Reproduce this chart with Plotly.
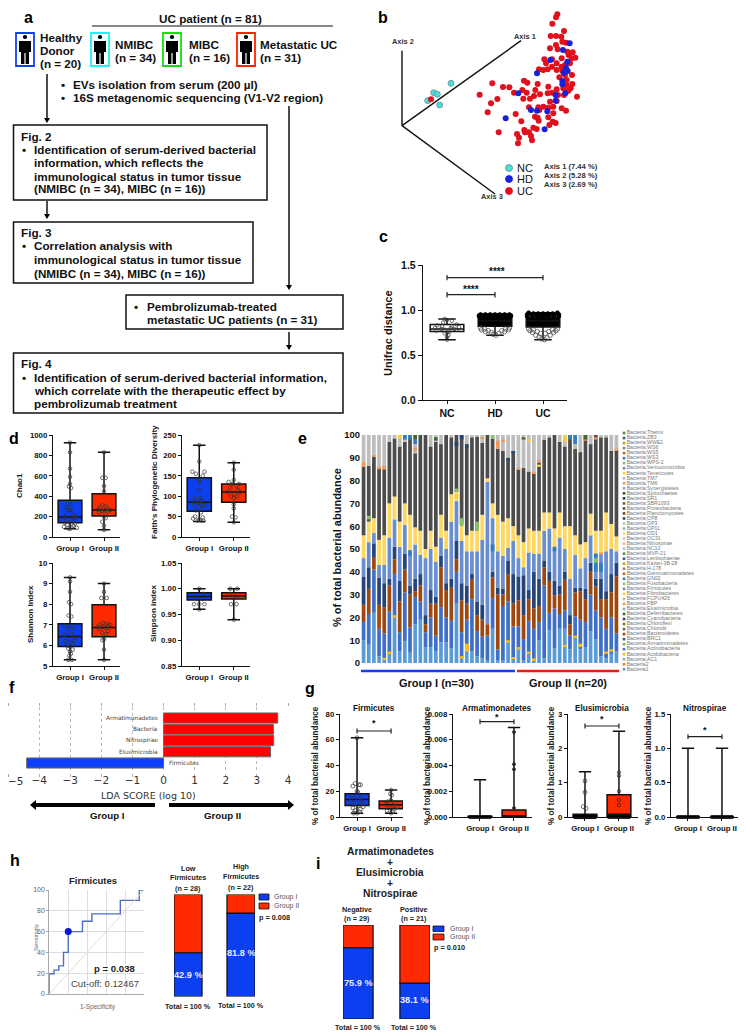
import plotly.graph_objects as go

# the page body keeps its 8 px margin, so the drawing starts at (8, 8) of the window
PAGE = 8
W, H = 746 - PAGE, 1033 - PAGE
FONT = "Liberation Sans"
BLUE = "#0b3ff0"
RED = "#ff2a00"
GROUPS = ["Group I", "Group II"]

# ---- panel b: ordination points, read in picture units
uc_x = [532,528,517,552,512,528,544,547,558,528,510,533,562,578,566,493,586,575,498,516,545,570,530,477,490,503,516,530,545,555,547,576,555,538,560,432,442,473,337,369,388,505,577,560,572,565,550,530,427,466,516,402,440,480,462,503,534,552,299,430,450,591,352,510,530,333,323,447,475,490,505,520,545,558,478,520,407,465,473,505,424,476,518,527,508,460,470,433,447,356,411,435,417,453,414,456,153]
uc_y = [43,52,71,93,108,108,110,125,128,135,145,148,155,157,165,178,173,175,190,178,175,190,190,208,210,208,200,210,200,195,212,225,225,232,240,242,248,252,250,261,262,260,252,255,265,272,265,268,270,270,278,278,278,283,288,280,285,285,284,296,296,290,297,305,303,310,337,322,322,320,323,320,325,332,330,340,342,350,353,352,364,362,365,369,375,383,387,390,397,397,402,397,413,408,430,421,298]
hd_x = [569,549,511,562,558,563,551,471,547,547,556,415,527,527,453,471,502,377,494]
hd_y = [130,150,180,185,203,213,218,220,243,253,280,280,285,302,330,332,334,355,388]
nc_x = [213,161,172,143,179]
nc_y = [250,278,283,302,315]

# ---- panel c: Unifrac distance
c_labels = ["NC", "HD", "UC"]
c_low = [0.67, 0.72, 0.67]
c_q1 = [0.76, 0.82, 0.81]
c_med = [0.79, 0.88, 0.88]
c_q3 = [0.84, 0.92, 0.92]
c_high = [0.90, 0.95, 0.97]
c_nc_x = [-.05,0,.1,-.08,.2,-.2,.1,-.1,.25,-.25,.08,-.12,.15,-.05,.2,-.22,.05,0,-.05,.03,0,0]
c_nc_y = [.90,.89,.88,.86,.84,.83,.82,.82,.81,.80,.80,.79,.79,.78,.78,.77,.76,.75,.74,.72,.70,.67]
c_top_x = [-.3,-.2,-.1,0,.1,.2,.3,-.33,-.24,-.14,-.05,.05,.14,.24,.33,-.33,-.22,-.11,0,.11,.22,.33]
c_hd_top = [.95,.95,.95,.95,.95,.95,.95,.94,.94,.94,.94,.94,.94,.94,.94,.93,.93,.93,.93,.93,.93,.93]
c_uc_top = [.97,.96,.96,.96,.96,.96,.97,.95,.95,.95,.95,.95,.95,.95,.95,.93,.93,.93,.93,.93,.93,.93]
c_hd_x = [-.3,.3,-.22,.22,-.28,.28,-.14,.14,-.2,.2,-.08,.08,-.04,.02]
c_hd_y = [.80,.80,.79,.79,.78,.78,.77,.77,.76,.76,.75,.74,.73,.72]
c_uc_x = [-.3,.3,-.2,.2,-.27,.27,-.12,.12,-.22,.22,-.05,.05,-.15,.15,-.08,.08,-.03,.03]
c_uc_y = [.79,.79,.78,.78,.77,.77,.76,.76,.75,.75,.74,.74,.72,.72,.70,.69,.68,.67]

# ---- panel d: alpha diversity boxes (low, q1, median, q3, high)
chao_box = [[80, 140, 195, 360, 925], [70, 205, 265, 425, 830]]
faith_box = [[38, 63, 85, 145, 225], [36, 85, 110, 130, 182]]
shannon_box = [[5.3, 5.95, 6.43, 7.05, 9.3], [5.3, 6.42, 6.87, 7.97, 9.0]]
simpson_box = [[.96, .978, .985, .992, 1.0], [.94, .98, .986, .992, 1.0]]
chao_i_y = [925,830,670,590,520,495,480,320,295,270,265,260,215,205,200,195,190,185,165,155,150,140,130,120,110,100,95,90,85,80]
chao_i_x = [0,0,0,0,0,-.03,.03,0,-.1,-.08,.02,-.02,.1,-.15,.18,-.1,.05,.15,-.2,.12,0,-.15,.15,-.08,.1,-.18,.05,.2,-.05,0]
chao_ii_y = [830,580,580,500,450,310,300,290,280,270,265,255,250,240,200,185,150,110,70,260]
chao_ii_x = [0,-.05,.05,0,0,-.05,.05,-.12,.1,-.18,.18,-.05,.1,-.15,0,.05,-.05,0,0,.02]
faith_i_y = [225,185,160,160,155,150,140,135,115,95,90,88,85,82,80,78,75,70,65,60,50,48,45,42,40,40,40,85,78,95]
faith_i_x = [0,0,-.2,.15,-.1,.1,0,0,0,-.12,.08,-.18,.15,-.05,.05,-.15,.12,0,-.1,.05,-.12,.1,-.18,0,.12,-.05,.04,0,.2,.03]
faith_ii_y = [182,165,140,135,130,130,125,120,115,110,105,100,100,95,80,70,50,48,36,110]
faith_ii_x = [0,0,0,-.15,.15,-.05,.08,-.1,.12,-.18,.02,-.08,.1,0,0,0,-.05,.05,0,.18]
shannon_i_y = [9.3,9.1,8.6,8.1,8.0,7.45,7.4,6.95,6.9,6.9,6.8,6.6,6.55,6.5,6.4,6.3,6.25,6.2,6.15,6.1,6.0,5.95,5.85,5.8,5.7,5.6,5.5,5.3,5.3,6.4]
shannon_i_x = [0,0,0,-.03,.03,-.04,.04,-.15,-.05,.1,.02,-.1,.05,-.18,.12,-.05,.15,-.12,.02,.08,-.1,0,-.05,.08,0,.03,-.02,-.05,.05,.18]
shannon_ii_y = [9,8.6,8.3,8.3,7.1,7.05,7.0,6.95,6.9,6.85,6.8,6.7,6.6,6.55,6.3,6.25,5.8,5.3,7.0,6.9]
shannon_ii_x = [0,0,-.08,.08,-.02,.08,-.12,.12,-.05,.02,-.15,.12,-.05,.05,0,-.05,0,0,.18,-.18]
simpson_i_y = [1,.99,.985,.985,.98,.98,.97,.97,.97,.96]
simpson_i_x = [0,.12,-.15,.15,-.08,.08,-.15,0,.15,0]
simpson_ii_y = [1,1,.985,.97,.97,.94,.99]
simpson_ii_x = [-.1,.1,.05,-.08,.08,0,-.12]

# ---- panel e: top of each stacked band per sample (first 30 = Group I, last 20 = Group II)
bacteria1_top = [10,8,22,3,1.5,4,20,5,9.5,4.5,17,19,7,7,5,9,9,6.5,26,2,5,5,3,2,1,15,1,1,9,2,6,1,4,1,10,2,14.5,6.5,15,15,6,11,6,7,14,10.5,3,2,4,5]
actino_top = [18,21.5,41,15,13,22.5,39,13.5,31,15.5,29,27,13.5,20,12,24.5,20,18.5,40,13.5,19,28,14,11.5,12,28.5,6,25,27,16,16,10.5,18.5,15,18,34,22,24,21.5,23,12,20.5,19,18,30,23,20,15,20,13]
bacteroid_top = [25.5,32.5,46.5,25.5,24.5,34,45.5,27,41,30,31.5,34,17,26,26,42,32,33,45.5,27.5,26,36.5,21,19,17,37.5,30,30,39,26,27.5,21,28,24,25,42,36,29.5,30,36.5,17,31,31.5,28,40,33.5,28,28,31,38]
cyano_top = [38,42,52.5,37.5,35,37,51,36,48,34,37,39,21,32,29,47,35,37,53.5,35,34,39,27,25.5,17,40,33,32.5,45,39,38,38.5,32,40,37,45,40,36,34,40,21,33,33,32.5,44,37,37,31.5,39,44]
firmicutes_top = [46,53,57,43,43,55,63,51,60.5,49,52,47.5,46,50,44.5,55,50,62,71,53.5,49,49,49,54,79.5,63.5,49,47,50.5,53.5,46,42,48.5,48,48,58,59,50,55,50,37,47.5,41.5,46,56,48,48,49,50,49]
od1_top = [56,62,63.5,54,56,70,73,62,70,65,59.5,58,50,58,51,65,58,74,75,61,56,58,58,65,81,70,65,62,63.5,60,56,53,59,58,58,66,66,59,66,60,60,56,52,53,65.5,58,58,66,61,55.5]
proteo_top = [86,86.5,90.5,85.5,85,97,98.5,95,97,99,92,100,100,95,97,96,100,99,100,100,95,99,99.5,96.5,100,98.5,94,93,89.5,93,85,85.5,84,83,88,98,99,100,97,95,100,94,92.5,100,96,100,99,99,93,93]

# small bands read as separate slivers: sample index, start, height
acido_i = [4,5,6,19,20,28,29,30,32,33,39,41,42,47,48]
acido_start = [1.5,4,20,2,5,9,2,6,4,1,7,11,7,4,5]
acido_h = [.8,1,1,1,3.5,1,.6,1,1,1,1,1,1.5,1,1]
fbp_i = [0,2,3,4,10,23,26,27,30,33,34,43,45,46,49]
fbp_start = [86,90.5,85,85,93,98.5,94,97,85,83,88,97.5,98,47.5,93]
fbp_h = [2,.6,1.2,1.5,1.5,.5,3.5,1,.6,.8,1,1,1,1,1]
gn02_i = [8,9,9,10,40,41,45,46,25,37]
gn02_start = [98,47,98,96,98,96,40,40,49,49]
gn02_h = [2,2.5,2,2,2,4,8,4,3,2]
fuso_i = [19,22,25,1,18,45]
fuso_start = [60,58,98.5,63,75,44]
fuso_h = [3.5,4,1.5,1.5,1.5,2]
deferri_i = [10,14,43,31,41]
deferri_start = [98,97.5,98,98,92]
deferri_h = [2,1.5,2,1,1]
lenti_i = [18,19,20,28,29]
lenti_start = [95,98,94.5,89,92]
lenti_h = [2,2,1.5,1,1]
fibro_i = [7,39,18,32,34]
fibro_start = [98.5,97,72,97,86]
fibro_h = [1.5,3,2,1,1]

phyla_labels = ["Bacteria1","Bacteria2","Bacteria;AC1","Bacteria;Acidobacteria","Bacteria;Actinobacteria","Bacteria;Armatimonadetes","Bacteria;BRC1","Bacteria;Bacteroidetes","Bacteria;Chlorobi","Bacteria;Chloroflexi","Bacteria;Cyanobacteria","Bacteria;Deferribacteres","Bacteria;Elusimicrobia","Bacteria;FBP","Bacteria;FCPU426","Bacteria;Fibrobacteres","Bacteria;Firmicutes","Bacteria;Fusobacteria","Bacteria;GN02","Bacteria;Gemmatimonadetes","Bacteria;H-178","Bacteria;Kazan-3B-28","Bacteria;Lentisphaerae","Bacteria;MVP-21","Bacteria;NC10","Bacteria;Nitrospirae","Bacteria;OC31","Bacteria;OD1","Bacteria;OP11","Bacteria;OP3","Bacteria;OP8","Bacteria;Planctomycetes","Bacteria;Proteobacteria","Bacteria;SBR1093","Bacteria;SR1","Bacteria;Spirochaetes","Bacteria;Synergistetes","Bacteria;TM6","Bacteria;TM7","Bacteria;Tenericutes","Bacteria;Verrucomicrobia","Bacteria;WPS-2","Bacteria;WS3","Bacteria;WS5","Bacteria;WS6","Bacteria;WWE1","Bacteria;ZB3","Bacteria;Thermi"]
phyla_colors = ["#5B9BD5","#ED7D31","#A5A5A5","#FFC000","#4472C4","#70AD47","#255E91","#9E480E","#636363","#997300","#264478","#43682B","#7CAFDD","#F1975A","#B7B7B7","#FFCD33","#698ED0","#8CC168","#327DC2","#D26012","#848484","#CC9A00","#335AA1","#5A8A39","#9DC3E6","#F6B48F","#C9C9C9","#FFD966","#8FAADC","#A9D18E","#1F4E79","#843C0C","#525252","#7F6000","#203864","#385723","#7CAFDD","#F1975A","#B7B7B7","#FFCD33","#698ED0","#8CC168","#327DC2","#D26012","#848484","#CC9A00","#335AA1","#5A8A39"]

# ---- panel f: LDA scores
lda_taxa = ["Firmicutes", "Elusimicrobia", "Nitrospirae", "Bacteria", "Armatimonadetes"]
lda_score = [-4.40, 3.44, 3.54, 3.53, 3.67]
lda_ticks = [-5, -4, -3, -2, -1, 0, 1, 2, 3, 4]
lda_tick_text = ["", "−4", "−3", "−2", "−1", "0", "1", "2", "3", "4"]

# ---- panel g: taxa boxes
firm_box = [[3, 9, 13.5, 18, 61.5], [3, 6.5, 9.5, 12.5, 21]]
arma_box = [[0, 0, 0, 0.00005, .0029], [0, 0, .0001, .00055, .00695]]
elus_box = [[0, 0, .02, .08, 1.32], [0, .02, .08, .65, 2.5]]
nitro_box = [[0, 0, 0, 0, 1], [0, 0, 0, 0, 1]]
firm_i_y = [61.5,26,25,24,20,19,16,15,14,13,12,11,10,9,8,7,6,5,4,3,3,25]
firm_i_x = [0,-.05,.1,-.12,0,.02,-.15,.1,-.08,.12,-.2,.15,-.1,.05,.18,-.12,.1,-.05,.08,0,-.1,.05]
firm_ii_y = [21,18,17,13,12,11,10,9,8,7,6,5,4,3]
firm_ii_x = [0,-.02,.02,0,-.1,.12,-.15,.05,.18,-.08,.1,-.12,.05,0]
arma_ii_y = [.0066,.0041,.0037,.0007]
elus_i_y = [1.05,.72,.3,.25]
elus_i_x = [0,0,-.05,.03]
elus_ii_y = [1.3,1.2,.75,.5,.35]
zero_row_x = [-.3,-.25,-.2,-.15,-.1,-.05,0,.05,.1,.15,.2,.25,.3]
zero_row_y = [0,0,0,0,0,0,0,0,0,0,0,0,0]

# ---- panels h, i
roc_spec = [0,0,5,5,10,10,15,15,20,20,35,35,45,45,75,75,95,95,100]
roc_sens = [0,19.5,19.5,23,23,27,27,40,40,60,60,70,70,77,77,90,90,100,100]
cutoff_spec = [20]
cutoff_sens = [60]
h_group1 = [42.9, 81.8]
h_group2 = [57.1, 18.2]
i_group1 = [75.9, 38.1]
i_group2 = [24.1, 61.9]

fig = go.Figure()
layout_axes = {}
n_axes = 0


def X(px):
    return (px - PAGE) / W


def Y(py):
    return 1 - (py - PAGE) / H


def txt(x, y, text, size=11.7, bold=True, color="#111", anchor="left", angle=0, family=FONT):
    label = f"<b>{text}</b>" if bold else text
    fig.add_annotation(x=X(x), y=Y(y), xref="paper", yref="paper", text=label, showarrow=False,
                       xanchor=anchor, yanchor="middle", textangle=angle, borderpad=0, borderwidth=0,
                       font=dict(size=size, color=color, family=family))


def rect(x0, y0, x1, y1, line="#111", width=1.5, fill=None):
    fig.add_shape(type="rect", xref="paper", yref="paper", x0=X(x0), x1=X(x1), y0=Y(y0), y1=Y(y1),
                  line=dict(color=line, width=width), fillcolor=fill)


def line(x0, y0, x1, y1, color="#111", width=1.5):
    fig.add_shape(type="line", xref="paper", yref="paper", x0=X(x0), x1=X(x1), y0=Y(y0), y1=Y(y1),
                  line=dict(color=color, width=width))


def poly(points, color="#000"):
    d = "M " + " L ".join(f"{X(a):.5f},{Y(b):.5f}" for a, b in points) + " Z"
    fig.add_shape(type="path", xref="paper", yref="paper", path=d, fillcolor=color, line=dict(width=0))


def down_arrow(x, y0, y1):
    line(x, y0, x, y1 - 3)
    poly([(x - 3, y1 - 5), (x + 3, y1 - 5), (x, y1)])


def person(cx, top):
    fig.add_shape(type="circle", xref="paper", yref="paper", x0=X(cx - 2.2), x1=X(cx + 2.2), y0=Y(top + 1), y1=Y(top + 5),
                  fillcolor="#000", line=dict(width=0))
    poly([(cx - 6, top + 7), (cx + 6, top + 7), (cx + 6, top + 18), (cx + 4, top + 18), (cx + 4, top + 30),
          (cx + 0.6, top + 30), (cx + 0.6, top + 19), (cx - 0.6, top + 19), (cx - 0.6, top + 30), (cx - 4, top + 30),
          (cx - 4, top + 18), (cx - 6, top + 18)])


def axes(x0, x1, ytop, ybot, xr, yr, xkw=None, ykw=None):
    global n_axes
    n_axes += 1
    n = n_axes
    xa = dict(domain=[X(x0), X(x1)], range=xr, anchor=f"y{n}", showgrid=False, zeroline=False, visible=False)
    ya = dict(domain=[Y(ybot), Y(ytop)], range=yr, anchor=f"x{n}", showgrid=False, zeroline=False, visible=False)
    xa.update(xkw or {})
    ya.update(ykw or {})
    layout_axes[f"xaxis{n}"] = xa
    layout_axes[f"yaxis{n}"] = ya
    return f"x{n}", f"y{n}"


def prism(**kw):
    d = dict(visible=True, showline=True, linecolor="#111", linewidth=1.4, ticks="outside", ticklen=3,
             tickwidth=1.4, tickcolor="#111", ticklabeloverflow="allow",
             tickfont=dict(size=7.8, family=FONT, color="#111", weight=700))
    d.update(kw)
    return d


def box(xa, ya, pos, stats, fill, width=0.7):
    low, q1, med, q3, high = stats
    fig.add_trace(go.Box(x=[pos], lowerfence=[low], q1=[q1], median=[med], q3=[q3], upperfence=[high],
                         xaxis=xa, yaxis=ya, fillcolor=fill, width=width, whiskerwidth=0.52,
                         line=dict(color="#111", width=1.5), boxpoints=False, hoverinfo="skip"))


def dots(xa, ya, xs, ys, size=4, symbol="circle-open", color="#222", lw=0.7):
    fig.add_trace(go.Scatter(x=xs, y=ys, xaxis=xa, yaxis=ya, mode="markers", hoverinfo="skip", cliponaxis=False,
                             marker=dict(size=size, symbol=symbol, color=color, line=dict(color=color, width=lw))))


def bracket(xa, ya, x0, x1, y, cap):
    for a, b, c, d in [(x0, y, x1, y), (x0, y - cap, x0, y + cap), (x1, y - cap, x1, y + cap)]:
        fig.add_shape(type="line", xref=xa, yref=ya, x0=a, x1=c, y0=b, y1=d, line=dict(color="#222", width=1.2))


def shift(values, by):
    return [v + by for v in values]


# panel letters: the top and left ones sit just inside the drawing area
for lx, ly, letter in [(28, 17, "a"), (383, 17, "b"), (383, 237, "c"), (14, 439, "d"), (302, 439, "e"),
                       (12, 687, "f"), (310, 688, "g"), (15, 860, "h"), (318, 863, "i")]:
    txt(lx, ly, letter, size=16, anchor="center", color="#000")

# ---- a: flowchart
txt(210, 18, "UC patient (n = 81)", anchor="center")
line(92, 26, 333, 26, width=1)
for x0, color in [(16, "#1240f0"), (91, "#20f0f8"), (163, "#10e010"), (237, "#ff2000")]:
    rect(x0, 33, x0 + 18, 66, line=color, width=1.8)
    person(x0 + 9, 34)
for y, t in [(37, "Healthy"), (50, "Donor"), (63, "(n = 20)")]:
    txt(40, y, t)
for x, rows in [(115, ["NMIBC", "(n = 34)"]), (189, ["MIBC", "(n = 16)"]), (260, ["Metastatic UC", "(n = 31)"])]:
    txt(x, 44, rows[0])
    txt(x, 57, rows[1])
down_arrow(47, 74, 123)
down_arrow(47, 201, 219)
down_arrow(289, 106, 290)
down_arrow(289, 332, 350)
txt(61, 85, "•")
txt(73, 85, "EVs isolation from serum (200 µl)")
txt(61, 98, "•")
txt(73, 98, "16S metagenomic sequencing (V1-V2 region)")
rect(13.5, 125, 267, 200)
txt(21, 136, "Fig. 2")
txt(22, 149, "•")
for y, t in [(149, "Identification of serum-derived bacterial"), (162, "information, which reflects the"),
             (176, "immunological status in tumor tissue"), (189, "(NMIBC (n = 34), MIBC (n = 16))")]:
    txt(34, y, t)
rect(13.5, 222, 253, 283)
txt(21, 233, "Fig. 3")
txt(22, 246, "•")
for y, t in [(246, "Correlation analysis with"), (259, "immunological status in tumor tissue"),
             (273, "(NMIBC (n = 34), MIBC (n = 16))")]:
    txt(34, y, t)
rect(126, 295, 343, 329)
txt(134, 306, "•")
txt(147, 306, "Pembrolizumab-treated")
txt(147, 319, "metastatic UC patients (n = 31)")
rect(13.5, 353, 343, 413)
txt(21, 363, "Fig. 4")
txt(22, 377, "•")
for y, t in [(377, "Identification of serum-derived bacterial information,"),
             (390, "which correlate with the therapeutic effect by"), (403, "pembrolizumab treatment")]:
    txt(34, y, t)

# ---- b: ordination
bx, by = axes(380, 680, 8, 210, [0, 900], [630, 24])
for ex, ey in [(66, 152), (423, 122), (345, 582)]:
    fig.add_shape(type="line", xref=bx, yref=by, x0=66, y0=377, x1=ex, y1=ey, line=dict(color="#111", width=1.4))
fig.add_trace(go.Scatter(x=nc_x, y=nc_y, xaxis=bx, yaxis=by, mode="markers", hoverinfo="skip",
                         marker=dict(size=6, color="#45e0d8", line=dict(color="#789", width=0.8))))
fig.add_trace(go.Scatter(x=uc_x, y=uc_y, xaxis=bx, yaxis=by, mode="markers", hoverinfo="skip",
                         marker=dict(size=6, color="#e0101c")))
fig.add_trace(go.Scatter(x=hd_x, y=hd_y, xaxis=bx, yaxis=by, mode="markers", hoverinfo="skip",
                         marker=dict(size=6, color="#1820d8")))
txt(403, 41, "Axis 2", size=7.4, anchor="center", color="#333")
txt(525, 36, "Axis 1", size=7.4, anchor="center", color="#333")
txt(492, 197, "Axis 3", size=7.4, anchor="center", color="#333")
for y, t, c in [(168, "NC", "#45e0d8"), (179, "HD", "#1820d8"), (191, "UC", "#e0101c")]:
    fig.add_shape(type="circle", xref="paper", yref="paper", x0=X(505.5), x1=X(512.5), y0=Y(y - 3.5), y1=Y(y + 3.5),
                  fillcolor=c, line=dict(color="#789" if t == "NC" else c, width=0.8))
    txt(517, y, t, size=11, bold=False)
for y, t in [(166, "Axis 1 (7.44 %)"), (175, "Axis 2 (5.28 %)"), (184, "Axis 3 (2.69 %)")]:
    txt(544, y, t, size=7.6, color="#333")

# ---- c: distances
cx, cy = axes(423, 567, 265, 400, [-.5, 2.5], [0, 1.5],
              prism(tickvals=[0, 1, 2], ticktext=c_labels, tickfont=dict(size=10.5, family=FONT, color="#111", weight=700)),
              prism(tickvals=[0, .5, 1, 1.5], ticktext=["0.0", "0.5", "1.0", "1.5"], ticklen=4,
                    tickfont=dict(size=10.5, family=FONT, color="#111", weight=700)))
for i in range(3):
    box(cx, cy, i, [c_low[i], c_q1[i], c_med[i], c_q3[i], c_high[i]], "#fff" if i == 0 else "#000")
dots(cx, cy, c_nc_x, c_nc_y, size=3.5, color="#333")
dots(cx, cy, shift(c_top_x, 1), c_hd_top, size=4, symbol="circle", color="#000")
dots(cx, cy, shift(c_top_x, 2), c_uc_top, size=4, symbol="circle", color="#000")
dots(cx, cy, shift(c_hd_x, 1), c_hd_y, size=4.5, color="#444")
dots(cx, cy, shift(c_uc_x, 2), c_uc_y, size=4.5, color="#444")
bracket(cx, cy, 0, 2, 1.36, .03)
bracket(cx, cy, 0, 1, 1.17, .03)
txt(497, 271, "****", size=10, anchor="center")
txt(471, 289, "****", size=10, anchor="center")
txt(388, 333, "Unifrac distance", size=11, anchor="center", angle=-90)

# ---- d: alpha diversity
d_panels = [
    (53, 120, 435, 537, [0, 1000], [0, 200, 400, 600, 800, 1000], None, [-.5, 1.47], chao_box,
     chao_i_x, chao_i_y, chao_ii_x, chao_ii_y, "Chao1", 20, 486),
    (182, 250, 435, 537, [0, 250], [0, 50, 100, 150, 200, 250], None, [-.5, 1.47], faith_box,
     faith_i_x, faith_i_y, faith_ii_x, faith_ii_y, "Faith's Phylogenetic Diversity", 155, 482),
    (53, 120, 563, 666, [5, 10], [5, 6, 7, 8, 9, 10], None, [-.5, 1.47], shannon_box,
     shannon_i_x, shannon_i_y, shannon_ii_x, shannon_ii_y, "Shannon index", 30, 614),
    (182, 250, 563, 666, [.85, 1.05], [.85, .9, .95, 1, 1.05], ["0.85", "0.90", "0.95", "1.00", "1.05"], [-.5, 1.47], simpson_box,
     simpson_i_x, simpson_i_y, simpson_ii_x, simpson_ii_y, "Simpson index", 153, 614),
]
for x0, x1, yt, yb, yr, tv, tt, xr, stats, ix, iy, iix, iiy, title, tx, ty in d_panels:
    a, b = axes(x0, x1, yt, yb, xr, yr,
                prism(tickvals=[0, 1], ticktext=GROUPS),
                prism(tickvals=tv, ticktext=tt if tt else [str(v) for v in tv], ticklen=3))
    box(a, b, 0, stats[0], BLUE)
    box(a, b, 1, stats[1], RED)
    dots(a, b, ix, iy, size=3.6, color="#333")
    dots(a, b, shift(iix, 1), iiy, size=3.6, color="#333")
    txt(tx, ty, title, size=8, anchor="center", angle=-90, color="#222")

# ---- e: stacked composition
ex, ey = axes(361, 619, 435, 663, [-.5, 49.5], [0, 100], None,
              dict(visible=True, showline=False, ticks="", tickvals=list(range(0, 101, 10)),
                   tickfont=dict(size=9.5, family=FONT, color="#111", weight=700)))
samples = list(range(50))
bands = [("Bacteria1", None, bacteria1_top, "#5B9BD5"), ("Actinobacteria", bacteria1_top, actino_top, "#3F6FC6"),
         ("Bacteroidetes", actino_top, bacteroid_top, "#9E480E"), ("Cyanobacteria", bacteroid_top, cyano_top, "#264478"),
         ("Firmicutes", cyano_top, firmicutes_top, "#698ED0"), ("OD1", firmicutes_top, od1_top, "#FFD75E"),
         ("Proteobacteria", od1_top, proteo_top, "#4C4C4C"), ("TM7", proteo_top, [100] * 50, "#BDBDBD")]
for name, lower, upper, color in bands:
    start = lower if lower else [0] * 50
    fig.add_trace(go.Bar(x=samples, y=[u - s for u, s in zip(upper, start)], base=start, name=name, xaxis=ex, yaxis=ey,
                         width=0.72, marker=dict(color=color, line=dict(width=0)), hoverinfo="skip"))
for idx, start, h, color in [(acido_i, acido_start, acido_h, "#FFC000"), (fbp_i, fbp_start, fbp_h, "#F1975A"),
                             (gn02_i, gn02_start, gn02_h, "#327DC2"), (fuso_i, fuso_start, fuso_h, "#8CC168"),
                             (deferri_i, deferri_start, deferri_h, "#43682B"), (lenti_i, lenti_start, lenti_h, "#264478"),
                             (fibro_i, fibro_start, fibro_h, "#FFCD33")]:
    fig.add_trace(go.Bar(x=idx, y=h, base=start, xaxis=ex, yaxis=ey, width=0.72,
                         marker=dict(color=color, line=dict(width=0)), hoverinfo="skip"))
line(361, 671, 515, 671, color="#1a3cf0", width=2.6)
line(517, 671, 619, 671, color="#f01818", width=2.6)
txt(337, 548, "% of total bacterial abundance", size=11, anchor="center", angle=-90)
txt(436, 683, "Group I (n=30)", size=11, anchor="center")
txt(568, 683, "Group II (n=20)", size=11, anchor="center")
lx, ly = axes(624, 746, 433, 669.3, [0, 1], [0, 47])
fig.add_trace(go.Scatter(x=[0] * 48, y=list(range(48)), xaxis=lx, yaxis=ly, mode="markers+text", text=phyla_labels,
                         textposition="middle right", cliponaxis=False, hoverinfo="skip",
                         textfont=dict(size=5.2, color="#777", family=FONT),
                         marker=dict(size=2.6, symbol="square", color=phyla_colors)))

# ---- f: LDA
fx, fy = axes(8, 288, 707, 773, [-5, 4], [-.89, 4.98],
              dict(visible=True, showline=False, ticks="outside", ticklen=3, mirror="ticks", tickcolor="#aaa",
                   ticklabelstandoff=-6, tickvals=lda_ticks, ticktext=lda_tick_text, showgrid=True, gridcolor="#bbb",
                   griddash="dot", gridwidth=0.8, tickfont=dict(size=10.5, family="DejaVu Sans", color="#333")))
fig.add_trace(go.Bar(x=lda_score, y=list(range(5)), orientation="h", xaxis=fx, yaxis=fy, width=0.9, hoverinfo="skip",
                     marker=dict(color=["#1040ff" if v < 0 else "#ff0000" for v in lda_score],
                                 line=dict(color="#666", width=1))))
for i, (name, v) in enumerate(zip(lda_taxa, lda_score)):
    fig.add_annotation(x=-0.1 if v > 0 else 0.12, y=i, xref=fx, yref=fy, text=name, showarrow=False,
                       xanchor="right" if v > 0 else "left", font=dict(size=5.8, color="#444", family="DejaVu Sans"))
# the first tick label would start left of the drawing area, so it is set inside
txt(8, 781, "−5", size=10.5, bold=False, color="#333", family="DejaVu Sans")
txt(148, 795, "LDA SCORE (log 10)", size=9.5, bold=False, anchor="center", color="#333", family="DejaVu Sans")
poly([(155, 803), (36, 803), (36, 800), (30, 805), (36, 810), (36, 807), (155, 807)])
poly([(169, 803), (288, 803), (288, 800), (294, 805), (288, 810), (288, 807), (169, 807)])
txt(107, 815, "Group I", size=9.7, anchor="center")
txt(223, 815, "Group II", size=9.7, anchor="center")

# ---- g: taxa boxes (Nitrospirae sits 5 px left so that its last label stays on the page)
g_panels = [
    (340, 403, [-.5, 1.35], [0, 80], [0, 20, 40, 60, 80], None, firm_box, "Firmicutes", 374, 315, 66.8, 73, 2),
    (453, 532, [-.794, 1.53], [0, .008], [0, .002, .004, .006, .008], ["0.000", "0.002", "0.004", "0.006", "0.008"],
     arma_box, "Armatimonadetes", 497, 427, .0074, .00777, .0002),
    (568, 638, [-.5, 1.56], [0, 3], [0, 1, 2, 3], None, elus_box, "Elusimicrobia", 602, 551, 2.65, 2.85, .07),
    (671, 741, [-.5, 1.56], [0, 1.5], [0, .5, 1, 1.5], ["0.0", "0.5", "1.0", "1.5"], nitro_box, "Nitrospirae", 705, 648, 1.17, 1.27, .035),
]
g_axes = []
for x0, x1, xr, yr, tv, tt, stats, title, tx, ytx, by_, sy, cap in g_panels:
    a, b = axes(x0, x1, 714, 817, xr, yr, prism(tickvals=[0, 1], ticktext=GROUPS),
                prism(tickvals=tv, ticktext=tt if tt else [str(v) for v in tv]))
    g_axes.append((a, b))
    box(a, b, 0, stats[0], BLUE)
    box(a, b, 1, stats[1], RED)
    bracket(a, b, 0, 1, by_, cap)
    fig.add_annotation(x=0.5, y=sy, xref=a, yref=b, text="<b>*</b>", showarrow=False,
                       font=dict(size=9, color="#111", family=FONT))
    txt(tx, 708, title, size=8.2, anchor="center")
    txt(ytx, 766, "% of total bacterial abundance", size=8.2, anchor="center", angle=-90, color="#222")
a, b = g_axes[0]
dots(a, b, firm_i_x, firm_i_y, size=4, color="#333")
dots(a, b, shift(firm_ii_x, 1), firm_ii_y, size=3.6, color="#333")
a, b = g_axes[1]
dots(a, b, zero_row_x, zero_row_y, size=3, symbol="circle", color="#000")
dots(a, b, [1] * 4, arma_ii_y, size=3, symbol="circle", color="#222")
a, b = g_axes[2]
dots(a, b, zero_row_x, zero_row_y, size=3.4, symbol="circle", color="#000")
dots(a, b, shift(zero_row_x, 1), zero_row_y, size=3, symbol="circle", color="#000")
dots(a, b, elus_i_x, elus_i_y, size=4, color="#333")
dots(a, b, [1] * 5, elus_ii_y, size=3.4, color="#222")
a, b = g_axes[3]
dots(a, b, zero_row_x, zero_row_y, size=3.2, symbol="circle", color="#000")
dots(a, b, shift(zero_row_x, 1), zero_row_y, size=3.2, symbol="circle", color="#000")

# ---- h: ROC and stacked bars
rx, ry = axes(49.3, 144, 890, 994, [0, 100], [0, 100],
              dict(visible=True, showline=True, linecolor="#aaa", linewidth=1, showticklabels=False, ticks="",
                   showgrid=True, gridcolor="#ddd", tickvals=[0, 20, 40, 60, 80, 100]),
              dict(visible=True, showline=True, linecolor="#aaa", linewidth=1, ticks="outside", ticklen=2, tickcolor="#aaa",
                   showgrid=True, gridcolor="#ddd", tickvals=[0, 20, 40, 60, 80, 100],
                   tickfont=dict(size=7, family=FONT, color="#666")))
fig.add_shape(type="line", xref=rx, yref=ry, x0=0, y0=0, x1=100, y1=100, line=dict(color="#ddd", width=1))
fig.add_trace(go.Scatter(x=roc_spec, y=roc_sens, xaxis=rx, yaxis=ry, mode="lines", hoverinfo="skip", cliponaxis=False,
                         line=dict(color="#4a6fc4", width=1.4)))
fig.add_trace(go.Scatter(x=cutoff_spec, y=cutoff_sens, xaxis=rx, yaxis=ry, mode="markers", hoverinfo="skip",
                         marker=dict(size=7, color="#0a14d8")))
txt(93, 880, "Firmicutes", size=9.5, anchor="center", color="#222")
txt(36, 938, "Sensitivity", size=6, bold=False, anchor="center", angle=-90, color="#666")
txt(98, 1007, "1-Specificity", size=6.5, bold=False, anchor="center", color="#666")
txt(114, 968, "p = 0.038", size=9.6, anchor="center", color="#222")
txt(105, 983, "Cut-off: 0.12467", size=9.5, bold=False, anchor="center", color="#444")


def stacked(x0, x1, yt, yb, xr, blue, red):
    a, b = axes(x0, x1, yt, yb, xr, [0, 100])
    pos = [0, 1]
    fig.add_trace(go.Bar(x=pos, y=blue, xaxis=a, yaxis=b, width=0.53, hoverinfo="skip",
                         marker=dict(color=BLUE, line=dict(color="#111", width=1.2))))
    fig.add_trace(go.Bar(x=pos, y=red, base=blue, xaxis=a, yaxis=b, width=0.53, hoverinfo="skip",
                         marker=dict(color=RED, line=dict(color="#111", width=1.2))))


stacked(174, 255, 894.5, 996.5, [-.264, 1.264], h_group1, h_group2)
for x, rows in [(188, [(868, "Low"), (877.5, "Firmicutes"), (888, "(n = 28)")]),
                (241, [(866, "High"), (876.5, "Firmicutes"), (887, "(n = 22)")])]:
    for y, t in rows:
        txt(x, y, t, size=7.2, anchor="center", color="#222")
txt(188, 975, "42.9 %", size=9.2, anchor="center", color="#e8ecff")
txt(241, 953, "81.8 %", size=9.2, anchor="center", color="#e8ecff")
txt(188, 1006, "Total = 100 %", size=7.2, anchor="center", color="#222")
txt(241, 1005, "Total = 100 %", size=7.2, anchor="center", color="#222")
rect(259, 894, 269, 900, fill=BLUE, width=0.8)
rect(259, 903, 269, 909, fill=RED, width=0.8)
txt(274, 897, "Group I", size=7, bold=False, color="#555")
txt(274, 906, "Group II", size=7, bold=False, color="#555")
txt(259, 917, "p = 0.008", size=7.3, color="#222")

# ---- i: combined taxa
for y, t in [(851, "Armatimonadetes"), (862, "+"), (872, "Elusimicrobia"), (883, "+"), (893, "Nitrospirae")]:
    txt(390, y, t, size=10.3, anchor="center", color="#222")
stacked(343, 430, 925, 1019, [-.263, 1.263], i_group1, i_group2)
for x, rows in [(357, [(909, "Negative"), (918, "(n = 29)")]), (414, [(909, "Positive"), (918, "(n = 21)")])]:
    for y, t in rows:
        txt(x, y, t, size=7.2, anchor="center", color="#222")
txt(358, 983, "75.9 %", size=9.2, anchor="center", color="#e8ecff")
txt(414, 1000, "38.1 %", size=9.2, anchor="center", color="#e8ecff")
txt(358, 1027, "Total = 100 %", size=7.2, anchor="center", color="#222")
txt(414, 1027, "Total = 100 %", size=7.2, anchor="center", color="#222")
rect(433, 926, 444, 931.5, fill=BLUE, width=0.8)
rect(433, 934, 444, 940, fill=RED, width=0.8)
txt(450, 929, "Group I", size=7, bold=False, color="#555")
txt(450, 937, "Group II", size=7, bold=False, color="#555")
txt(434, 947, "p = 0.010", size=7.3, color="#222")

fig.update_layout(width=W, height=H, margin=dict(l=0, r=0, t=0, b=0, autoexpand=False), paper_bgcolor="white", plot_bgcolor="white",
                  showlegend=False, barmode="overlay", boxmode="overlay", font=dict(family=FONT), **layout_axes)

fig.write_html("out.html")
